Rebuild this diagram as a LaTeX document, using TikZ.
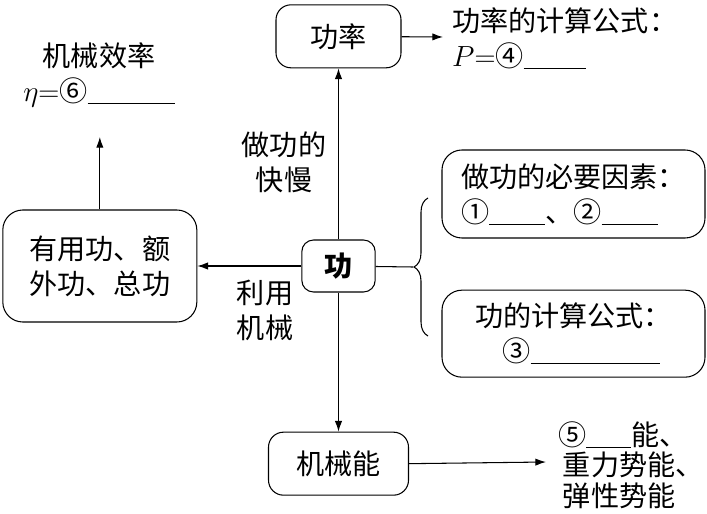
\documentclass[tikz,border=0pt]{standalone}
\usepackage{fontspec}
\setmainfont{Noto Sans CJK SC}
\usetikzlibrary{arrows.meta,decorations.pathreplacing}

\newcommand{\blank}[1]{\underline{\hspace{#1}}}

\tikzset{
	box/.style={draw, rounded corners=0.45cm, line width=0.9pt, inner sep=0pt, align=center},
	arr/.style={-{Latex[length=3.2mm,width=2.2mm]}, line width=0.9pt},
	txt/.style={inner sep=0pt, align=center},
}

\begin{document}
\begin{tikzpicture}[x=0.03cm, y=-0.03cm, font=\fontsize{24}{30}\selectfont]
		\useasboundingbox (0,0) rectangle (707,514);
		\node (gong) [box, minimum width=2.2cm, minimum height=1.56cm, rounded corners=0.35cm] at (338.5,266) {\bfseries 功};
		\node (gonglv) [box, above of=gong, node distance=6.89cm, minimum width=3.75cm, minimum height=1.89cm] {功率};
		\node (jixie) [box, below of=gong, node distance=5.93cm, minimum width=4.2cm, minimum height=1.89cm] {机械能};
		\node (youyong) [box, left of=gong, node distance=7.16cm, minimum width=5.82cm, minimum height=3.36cm, rounded corners=0.6cm] {有用功、额\\外功、总功};
		\coordinate (H) at (573.5,266);
		\node (yinsu) [box, above of=H, node distance=2.16cm, minimum width=7.89cm, minimum height=2.64cm, rounded corners=0.6cm, align=left] {做功的必要因素：\\①\blank{2em}、②\blank{2em}};
		\node (gongshi) [box, below of=H, node distance=2.03cm, minimum width=7.89cm, minimum height=2.61cm, rounded corners=0.6cm] {功的计算公式：\\\;\;③\blank{4.6em}};
		% free texts
		\node (lvgs) [txt, anchor=west, align=left] at (452,38) {功率的计算公式：\\$P{=}$④\blank{2.2em}};
		\node (xiaolv) [txt] at (99,75) {机械效率\\$\eta{=}$⑥\blank{3.1em}};
		\node (kuaiman) [txt] at (284,162) {做功的\\快慢};
		\node (liyong) [txt] at (265,310) {利用\\机械};
		\node (nengli) [txt, anchor=west, align=left, font=\fontsize{24}{26}\selectfont] at (558,465) {⑤\blank{1.6em}能、\\\,重力势能、\\\,弹性势能};
		\coordinate (up) at (youyong.north |- 0,137);
		\coordinate (lvend) at (443,37);
		\coordinate (nengend) at (546,462);
		\coordinate (tip) at (413,267);
		\draw[arr] (gong) to (gonglv);
		\draw[arr] (gong) to (jixie);
		\draw[arr] (gong) to (youyong);
		\draw[arr] (youyong) to (up);
		\draw[arr] (gonglv) to (lvend);
		\draw[arr] (jixie.east) to (nengend);
		\draw[line width=0.9pt] (gong) to (tip);
		\draw[line width=0.9pt, decorate, decoration={brace, amplitude=0.42cm}] (428,336) -- (428,198);
	\end{tikzpicture}
\end{document}
